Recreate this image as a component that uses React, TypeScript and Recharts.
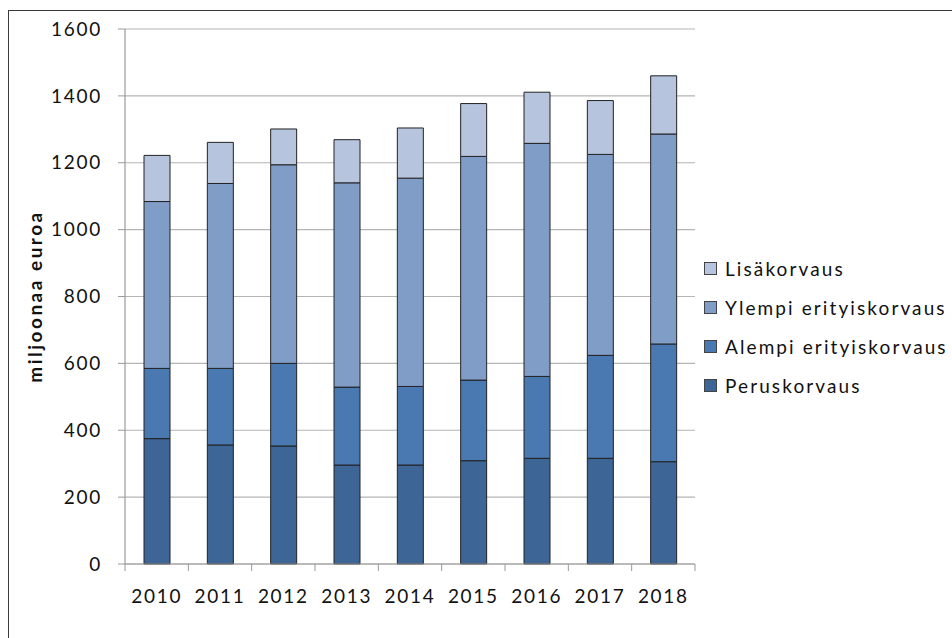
import { BarChart, Bar, XAxis, YAxis, CartesianGrid, Legend } from 'recharts'

const years = ['2010', '2011', '2012', '2013', '2014', '2015', '2016', '2017', '2018']
const peruskorvaus = [375, 356, 353, 296, 296, 309, 316, 316, 306]
const alempi = [210, 229, 247, 233, 235, 241, 245, 308, 352]
const ylempi = [499, 553, 594, 611, 623, 669, 697, 601, 628]
const lisakorvaus = [138, 123, 107, 129, 150, 158, 153, 161, 174]
const yTicks = [0, 200, 400, 600, 800, 1000, 1200, 1400, 1600]

const series = [
  { key: 'perus', name: 'Peruskorvaus', color: '#3d6595' },
  { key: 'alempi', name: 'Alempi erityiskorvaus', color: '#4a78b0' },
  { key: 'ylempi', name: 'Ylempi erityiskorvaus', color: '#809dc8' },
  { key: 'lisa', name: 'Lisäkorvaus', color: '#b6c4de' },
]

const data = years.map((year, i) => ({
  year,
  perus: peruskorvaus[i],
  alempi: alempi[i],
  ylempi: ylempi[i],
  lisa: lisakorvaus[i],
}))

const font = 'Lato, "Open Sans", sans-serif'
const tickStyle = { fontSize: 19, fill: '#111', fontFamily: font, letterSpacing: 1.7 }
const LABEL_GAP = 26

// year label plus the small tick marks that sit on the category edges
const YearTick = (props: any) => {
  const { x, y, payload, index, visibleTicksCount } = props
  const half = payload.offset ?? 0
  const axisY = y - LABEL_GAP
  const last = index === visibleTicksCount - 1
  return (
    <g>
      <line x1={x - half} x2={x - half} y1={axisY} y2={axisY + 7} stroke="#9a9a9a" />
      {last && <line x1={x + half} x2={x + half} y1={axisY} y2={axisY + 7} stroke="#9a9a9a" />}
      <text x={x} y={y} dy="0.71em" textAnchor="middle" style={tickStyle}>
        {payload.value}
      </text>
    </g>
  )
}

const LegendList = () => (
  <div style={{ fontFamily: font }}>
    {[...series].reverse().map((s) => (
      <div key={s.key} style={{ display: 'flex', alignItems: 'center', height: 39 }}>
        <span
          style={{
            width: 11,
            height: 11,
            background: s.color,
            border: '1px solid #444',
            marginRight: 8,
          }}
        />
        <span style={{ fontSize: 19, color: '#111', letterSpacing: 2.1 }}>{s.name}</span>
      </div>
    ))}
  </div>
)

export default function App() {
  return (
    <div style={{ position: 'absolute', left: 0, top: 0, width: 952, height: 638, overflow: 'hidden', background: '#fff' }}>
      <div
        style={{
          position: 'absolute',
          left: 8,
          top: 10,
          width: 1000,
          height: 700,
          borderTop: '1.5px solid #3a3a3a',
          borderLeft: '1.5px solid #3a3a3a',
        }}
      />
      <BarChart
        width={952}
        height={638}
        data={data}
        margin={{ top: 29, right: 9, bottom: 34, left: 0 }}
        style={{ position: 'absolute', left: 0, top: 0 }}
      >
        <CartesianGrid vertical={false} stroke="#b5b5b5" strokeWidth={1.2} />
        <XAxis
          dataKey="year"
          height={40}
          axisLine={{ stroke: '#9a9a9a', strokeWidth: 1.2 }}
          tickLine={false}
          tickSize={0}
          tickMargin={LABEL_GAP}
          tick={<YearTick />}
          interval={0}
        />
        <YAxis
          width={125}
          domain={[0, 1600]}
          ticks={yTicks}
          interval={0}
          axisLine={{ stroke: '#9a9a9a', strokeWidth: 1.2 }}
          tickLine={{ stroke: '#9a9a9a' }}
          tickSize={7}
          tickMargin={16}
          tick={tickStyle}
          label={{
            value: 'miljoonaa euroa',
            angle: -90,
            position: 'insideLeft',
            offset: 35,
            style: { textAnchor: 'middle', fontSize: 19, fontWeight: 700, fill: '#111', fontFamily: font, letterSpacing: 2.5 },
          }}
        />
        {series.map((s) => (
          <Bar
            key={s.key}
            dataKey={s.key}
            name={s.name}
            stackId="a"
            fill={s.color}
            stroke="#222"
            strokeWidth={1}
            barSize={26}
            isAnimationActive={false}
          />
        ))}
        <Legend
          layout="vertical"
          align="right"
          verticalAlign="top"
          content={<LegendList />}
          wrapperStyle={{ left: 704, top: 249, width: 248 }}
        />
      </BarChart>
    </div>
  )
}
